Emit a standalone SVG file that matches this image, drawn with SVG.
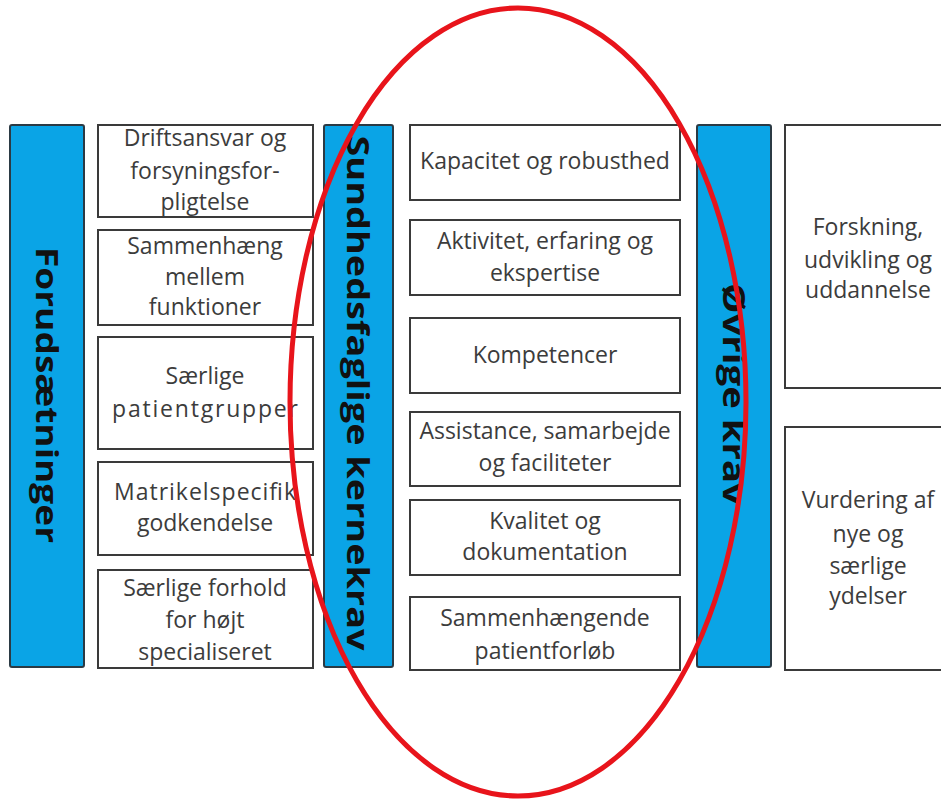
<svg xmlns="http://www.w3.org/2000/svg" width="941" height="801" viewBox="0 0 941 801">
<style>
.bar{fill:#0AA4E6;stroke:#2b3a44;stroke-width:2}
.box{fill:#fff;stroke:#3a3a3a;stroke-width:2}
.t{font-family:"Open Sans","Liberation Sans",sans-serif;font-size:23px;fill:#3c3c3c;text-anchor:middle}
.v{font-family:"Open Sans","Liberation Sans",sans-serif;font-size:31px;font-weight:bold;fill:#111;text-anchor:middle}
</style>
<rect width="941" height="801" fill="#fff"/>
<g id="forudsaetninger">
<rect class="bar" x="10" y="125" width="74" height="542" rx="2"/>
<text class="v" transform="translate(47,395) rotate(90)" dy="0.35em" textLength="296" lengthAdjust="spacingAndGlyphs">Forudsætninger</text>
</g>
<g id="l1"><rect class="box" x="98" y="125" width="215" height="92"/>
<text class="t" x="205" y="138" dy="0.35em">Driftsansvar og</text>
<text class="t" x="205" y="171" dy="0.35em">forsyningsfor-</text>
<text class="t" x="205" y="202" dy="0.35em">pligtelse</text></g>
<g id="l2"><rect class="box" x="98" y="230" width="215" height="95"/>
<text class="t" x="205" y="246" dy="0.35em">Sammenhæng</text>
<text class="t" x="205" y="277" dy="0.35em">mellem</text>
<text class="t" x="205" y="307" dy="0.35em">funktioner</text></g>
<g id="l3"><rect class="box" x="98" y="337" width="215" height="112"/>
<text class="t" x="205" y="376" dy="0.35em">Særlige</text>
<text class="t" x="205" y="409" dy="0.35em" textLength="186" lengthAdjust="spacing">patientgrupper</text></g>
<g id="l4"><rect class="box" x="98" y="462" width="215" height="93"/>
<text class="t" x="205" y="492" dy="0.35em" textLength="182" lengthAdjust="spacing">Matrikelspecifik</text>
<text class="t" x="205" y="523" dy="0.35em">godkendelse</text></g>
<g id="l5"><rect class="box" x="98" y="570" width="215" height="98"/>
<text class="t" x="205" y="588" dy="0.35em">Særlige forhold</text>
<text class="t" x="205" y="620" dy="0.35em">for højt</text>
<text class="t" x="205" y="652" dy="0.35em">specialiseret</text></g>
<g id="sundhedsfaglige">
<rect class="bar" x="324" y="125" width="69" height="542" rx="2"/>
<text class="v" transform="translate(358,393) rotate(90)" dy="0.35em" textLength="515" lengthAdjust="spacingAndGlyphs">Sundhedsfaglige kernekrav</text>
</g>
<g id="m1"><rect class="box" x="410" y="125" width="270" height="75"/>
<text class="t" x="545" y="161" dy="0.35em">Kapacitet og robusthed</text></g>
<g id="m2"><rect class="box" x="410" y="220" width="270" height="75"/>
<text class="t" x="545" y="241" dy="0.35em">Aktivitet, erfaring og</text>
<text class="t" x="545" y="273" dy="0.35em">ekspertise</text></g>
<g id="m3"><rect class="box" x="410" y="318" width="270" height="75"/>
<text class="t" x="545" y="355" dy="0.35em">Kompetencer</text></g>
<g id="m4"><rect class="box" x="410" y="412" width="270" height="74"/>
<text class="t" x="545" y="431" dy="0.35em">Assistance, samarbejde</text>
<text class="t" x="545" y="463" dy="0.35em">og faciliteter</text></g>
<g id="m5"><rect class="box" x="410" y="500" width="270" height="75"/>
<text class="t" x="545" y="521" dy="0.35em">Kvalitet og</text>
<text class="t" x="545" y="552" dy="0.35em">dokumentation</text></g>
<g id="m6"><rect class="box" x="410" y="597" width="270" height="73"/>
<text class="t" x="545" y="618" dy="0.35em">Sammenhængende</text>
<text class="t" x="545" y="651" dy="0.35em">patientforløb</text></g>
<g id="ovrige">
<rect class="bar" x="697" y="125" width="74" height="542" rx="2"/>
<text class="v" transform="translate(734,394) rotate(90)" dy="0.35em" textLength="222" lengthAdjust="spacingAndGlyphs">Øvrige krav</text>
</g>
<g id="r1"><rect class="box" x="785" y="125" width="170" height="263"/>
<text class="t" x="868" y="227" dy="0.35em">Forskning,</text>
<text class="t" x="868" y="260" dy="0.35em">udvikling og</text>
<text class="t" x="868" y="290" dy="0.35em">uddannelse</text></g>
<g id="r2"><rect class="box" x="785" y="427" width="170" height="243"/>
<text class="t" x="868" y="500" dy="0.35em">Vurdering af</text>
<text class="t" x="868" y="534" dy="0.35em">nye og</text>
<text class="t" x="868" y="566" dy="0.35em">særlige</text>
<text class="t" x="868" y="596" dy="0.35em">ydelser</text></g>
<g id="connectors">
<ellipse cx="518" cy="402" rx="228" ry="394" fill="none" stroke="#E8141B" stroke-width="5"/>
</g>
</svg>
